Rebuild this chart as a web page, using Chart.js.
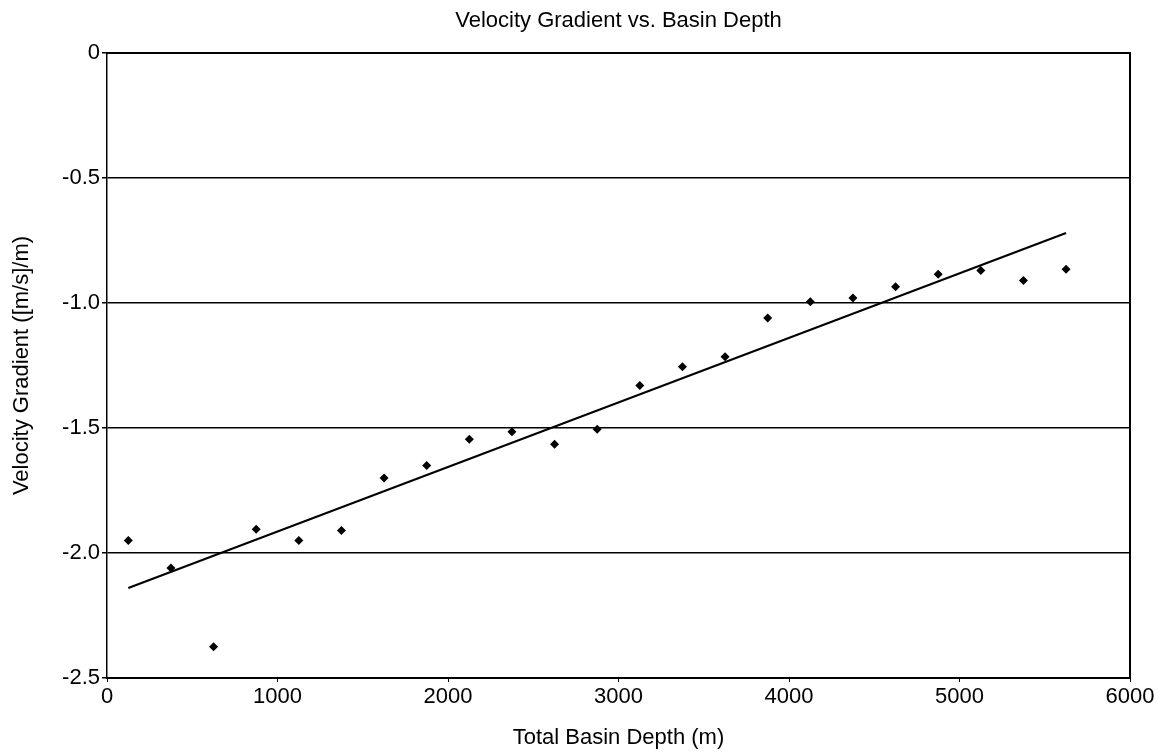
<!DOCTYPE html>
<html>
<head>
<meta charset="utf-8">
<title>Velocity Gradient vs. Basin Depth</title>
<script src="https://cdn.jsdelivr.net/npm/chart.js@4.4.1/dist/chart.umd.min.js"></script>
<style>
    html, body { margin: 0; padding: 0; background: #fff; }
    #wrap { width: 1164px; height: 754px; }
</style>
</head>
<body>
<div id="wrap"><canvas id="gradient-chart" width="1164" height="754"></canvas></div>
<script>
// basin depth (m) and measured velocity gradient ([m/s]/m)
var depths = [125, 375, 625, 875, 1125, 1375, 1625, 1875, 2125, 2375, 2625, 2875,
              3125, 3375, 3625, 3875, 4125, 4375, 4625, 4875, 5125, 5375, 5625];
var gradients = [-1.95, -2.06, -2.375, -1.905, -1.95, -1.91, -1.70, -1.65, -1.545, -1.515, -1.565, -1.505,
                 -1.33, -1.255, -1.215, -1.06, -0.995, -0.98, -0.935, -0.885, -0.87, -0.91, -0.865];

// trend line end points
var trendDepths = [125, 5625];
var trendGradients = [-2.14, -0.72];

var xTicks = [0, 1000, 2000, 3000, 4000, 5000, 6000];
var yTickLabels = ['-2.5', '-2.0', '-1.5', '-1.0', '-0.5', '0'];

var FONT = '"Liberation Sans", Arial, sans-serif';

function toPoints(xs, ys) {
    return xs.map(function (x, i) { return { x: x, y: ys[i] }; });
}

var ctx = document.getElementById('gradient-chart').getContext('2d');

new Chart(ctx, {
    type: 'scatter',
    data: {
        datasets: [{
            label: 'Velocity Gradient',
            data: toPoints(depths, gradients),
            pointStyle: 'rectRot',
            pointRadius: 4.5,
            backgroundColor: '#000',
            borderColor: '#000',
            borderWidth: 0,
            showLine: false
        }, {
            label: 'Trend',
            data: toPoints(trendDepths, trendGradients),
            showLine: true,
            pointRadius: 0,
            borderColor: '#000',
            borderWidth: 2
        }]
    },
    options: {
        responsive: false,
        animation: false,
        layout: { padding: 0 },
        plugins: {
            legend: { display: false },
            tooltip: { enabled: false },
            title: { display: false }
        },
        scales: {
            x: {
                type: 'linear',
                position: 'bottom',
                min: 0,
                max: 6000,
                afterBuildTicks: function (scale) {
                    scale.ticks = xTicks.map(function (v) { return { value: v }; });
                },
                ticks: {
                    color: '#000',
                    font: { family: FONT, size: 22 },
                    padding: 2,
                    maxRotation: 0,
                    callback: function (value) { return String(value); }
                },
                grid: {
                    display: true,
                    drawOnChartArea: false,
                    tickLength: 4,
                    color: '#000',
                    lineWidth: 1
                },
                border: { display: true, color: '#000', width: 2 },
                title: {
                    display: true,
                    text: 'Total Basin Depth (m)',
                    color: '#000',
                    font: { family: FONT, size: 22 },
                    padding: { top: 0, bottom: 3 }
                },
                afterFit: function (scale) { scale.height = 76; }
            },
            // top axis only carries the frame line and the chart title
            x2: {
                type: 'linear',
                position: 'top',
                min: 0,
                max: 6000,
                ticks: { display: false },
                grid: { display: false, drawTicks: false },
                border: { display: true, color: '#000', width: 2 },
                title: {
                    display: true,
                    text: 'Velocity Gradient vs. Basin Depth',
                    color: '#000',
                    font: { family: FONT, size: 22 },
                    padding: { top: 8, bottom: 0 }
                },
                afterFit: function (scale) { scale.height = 53; }
            },
            y: {
                type: 'linear',
                position: 'left',
                min: -2.5,
                max: 0,
                ticks: {
                    stepSize: 0.5,
                    color: '#000',
                    font: { family: FONT, size: 22 },
                    padding: 2,
                    callback: function (value) {
                        var i = Math.round((value + 2.5) / 0.5);
                        return yTickLabels[i];
                    }
                },
                grid: {
                    color: '#000',
                    lineWidth: 1.5,
                    tickLength: 5
                },
                border: { display: true, color: '#000', width: 1.5 },
                title: {
                    display: true,
                    text: 'Velocity Gradient ([m/s]/m)',
                    color: '#000',
                    font: { family: FONT, size: 22 },
                    padding: { top: 9, bottom: 0 }
                },
                afterFit: function (scale) { scale.width = 107; }
            },
            // right axis only carries the frame line
            y2: {
                type: 'linear',
                position: 'right',
                min: -2.5,
                max: 0,
                ticks: { display: false },
                grid: { display: false, drawTicks: false },
                border: { display: true, color: '#000', width: 2 },
                afterFit: function (scale) { scale.width = 34; }
            }
        }
    }
});
</script>
</body>
</html>
